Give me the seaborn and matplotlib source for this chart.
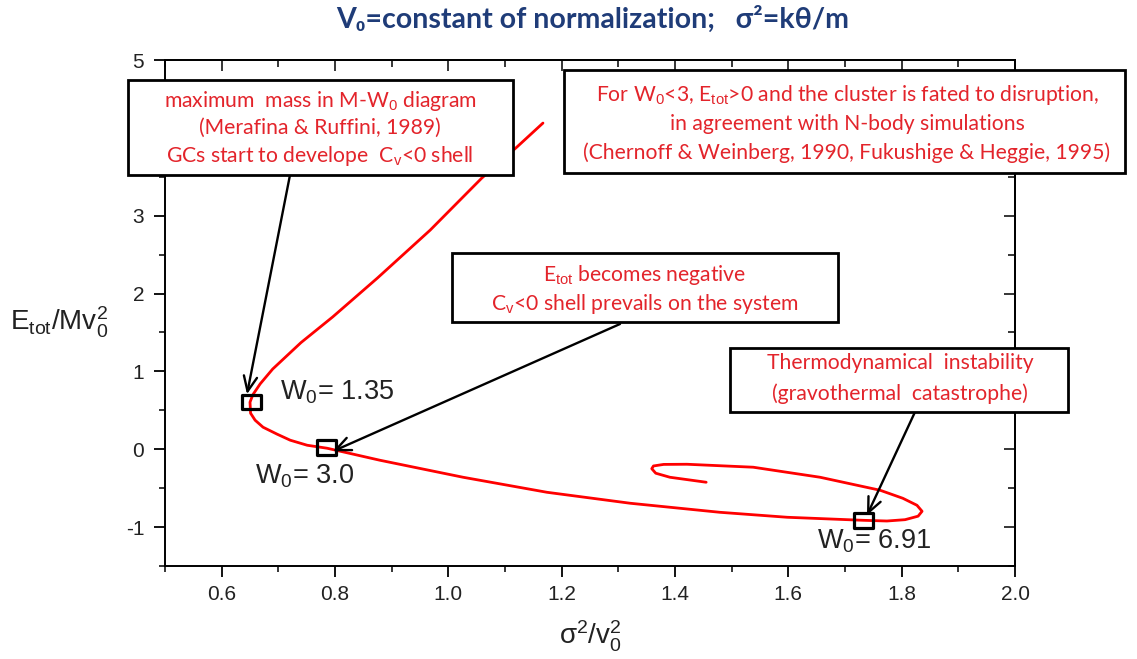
import matplotlib
matplotlib.use("Agg")
import matplotlib.pyplot as plt
from matplotlib.patches import Rectangle
from matplotlib.path import Path
from matplotlib.markers import MarkerStyle
from matplotlib.ticker import MultipleLocator
import numpy as np
import pandas as pd
import seaborn as sns

# ---- data ----
sigma2_v02 = [1.167, 1.121, 1.059, 0.968, 0.875, 0.796, 0.740, 0.690, 0.668, 0.655,
              0.650, 0.651, 0.659, 0.673, 0.698, 0.721, 0.751, 0.786, 0.879, 1.026,
              1.174, 1.321, 1.479, 1.598, 1.732, 1.774, 1.806, 1.829, 1.836, 1.827,
              1.802, 1.762, 1.656, 1.538, 1.421, 1.380, 1.362, 1.359, 1.366, 1.391,
              1.455]
etot_mv02 = [4.190, 3.882, 3.483, 2.815, 2.200, 1.700, 1.370, 1.030, 0.840, 0.700,
             0.604, 0.463, 0.373, 0.283, 0.193, 0.116, 0.051, 0.013, -0.141, -0.360,
             -0.553, -0.694, -0.810, -0.874, -0.913, -0.922, -0.905, -0.860, -0.797, -0.720,
             -0.630, -0.527, -0.360, -0.231, -0.193, -0.195, -0.215, -0.250, -0.308, -0.360,
             -0.424]

w0_labels = ["1.35", "3.0", "6.91"]
w0_sigma2 = [0.652, 0.785, 1.732]
w0_etot = [0.609, 0.019, -0.917]

x_ticks = [0.6, 0.8, 1.0, 1.2, 1.4, 1.6, 1.8, 2.0]
x_tick_labels = ["0.6", "0.8", "1.0", "1.2", "1.4", "1.6", "1.8", "2.0"]
y_ticks = [-1, 0, 1, 2, 3, 4, 5]
y_tick_labels = ["-1", "0", "1", "2", "3", "4", "5"]

title_text = "V\u2080=constant of normalization;   \u03c3\u00b2=k\u03b8/m"
box1_lines = ["maximum  mass in M-W$_{\\rm 0}$ diagram",
              "(Merafina & Ruffini, 1989)",
              "GCs start to develope  C$_{\\rm v}$<0 shell"]
box2_lines = ["For W$_{\\rm 0}$<3, E$_{\\rm tot}$>0 and the cluster is fated to disruption,",
              "in agreement with N-body simulations",
              "(Chernoff & Weinberg, 1990, Fukushige & Heggie, 1995)"]
box3_lines = ["E$_{\\rm tot}$ becomes negative",
              "C$_{\\rm v}$<0 shell prevails on the system"]
box4_lines = ["Thermodynamical  instability",
              "(gravothermal  catastrophe)"]

# ---- style ----
sns.set_theme(style="ticks")
plt.rcParams["font.family"] = ["Liberation Sans", "DejaVu Sans"]
plt.rcParams["mathtext.fontset"] = "custom"
plt.rcParams["mathtext.rm"] = "Liberation Sans"
plt.rcParams["mathtext.it"] = "Liberation Sans:italic"
plt.rcParams["mathtext.bf"] = "Liberation Sans:bold"
plt.rcParams["axes.unicode_minus"] = False

W, H = 1137, 659
RED_TXT = "#E3242B"
NAVY = "#1F3C78"
fig = plt.figure(figsize=(W / 100, H / 100), dpi=100)
fig.patch.set_facecolor("white")
ax = fig.add_axes([165 / W, 1 - 566 / H, 850 / W, 506 / H])

df = pd.DataFrame({"s": sigma2_v02, "e": etot_mv02})
sns.lineplot(data=df, x="s", y="e", sort=False, estimator=None, color="#FF0000",
             linewidth=2.0, ax=ax, zorder=2)

rect = Path([(-0.5, -0.38), (0.5, -0.38), (0.5, 0.38), (-0.5, 0.38), (-0.5, -0.38)],
            [Path.MOVETO, Path.LINETO, Path.LINETO, Path.LINETO, Path.CLOSEPOLY])
mdf = pd.DataFrame({"s": w0_sigma2, "e": w0_etot})
sns.scatterplot(data=mdf, x="s", y="e", marker=MarkerStyle(rect), s=190,
                facecolor="none", edgecolor="black", linewidth=2.3, ax=ax, zorder=4)

label_pos = [(0.703, 0.643), (0.659, -0.437), (1.6505, -1.272)]
for (lx, ly), lab in zip(label_pos, w0_labels):
    ax.text(lx, ly, "W$_{\\rm 0}$= " + lab, ha="left", va="baseline", fontsize=19.5,
            color="#222222", zorder=5)

ax.set_xlim(0.5, 2.0)
ax.set_ylim(-1.5, 5)
ax.set_xticks(x_ticks, x_tick_labels)
ax.xaxis.set_minor_locator(MultipleLocator(0.1))
ax.set_yticks(y_ticks, y_tick_labels)
ax.yaxis.set_minor_locator(MultipleLocator(0.5))
ax.tick_params(axis="both", which="major", direction="out", length=8, width=1.3,
               labelsize=15, colors="black")
ax.tick_params(axis="both", which="minor", direction="out", length=4.5, width=1.3)
ax.tick_params(axis="x", pad=6)
ax.tick_params(axis="y", pad=7)
for lbl in ax.get_xticklabels() + ax.get_yticklabels():
    lbl.set_color("#222222")
ax.set_xlabel("")
ax.set_ylabel("")
for sp in ax.spines.values():
    sp.set_visible(True)
    sp.set_linewidth(1.4)
    sp.set_color("black")

top = ax.secondary_xaxis("top")
top.set_xticks(x_ticks)
top.xaxis.set_minor_locator(MultipleLocator(0.1))
top.tick_params(which="major", direction="in", length=8, width=1.3, labeltop=False)
top.tick_params(which="minor", direction="in", length=5, width=1.3)
top.set_xticklabels([])
right = ax.secondary_yaxis("right")
right.set_yticks(y_ticks)
right.yaxis.set_minor_locator(MultipleLocator(0.5))
right.tick_params(which="major", direction="in", length=8, width=1.3, labelright=False)
right.tick_params(which="minor", direction="in", length=5, width=1.3)
right.set_yticklabels([])

# axis labels
fig.text(10 / W, 1 - 330 / H, "E$_{\\rm tot}$/Mv$_{\\rm 0}^{\\rm 2}$", ha="left",
         va="baseline", fontsize=20, color="#222222")
fig.text(590 / W, 1 - 636 / H, "$\\mathrm{\\sigma}^{\\rm 2}$/v$_{\\rm 0}^{\\rm 2}$",
         ha="center", va="center", fontsize=20, color="#222222")

# title
fig.text(593 / W, 1 - 19 / H, title_text, ha="center", va="center", fontsize=20.5,
         fontweight="bold", color=NAVY, family=["Lato", "DejaVu Sans"])

# arrows (head on the marker, tail on the box edge in figure pixels)
arrow_heads = [(0.6447, 0.707), (0.7965, -0.026), (1.7388, -0.848)]
arrow_tails = [(290, H - 175), (620, H - 324), (915, H - 412)]
for hd, tl in zip(arrow_heads, arrow_tails):
    ax.annotate("", xy=hd, xycoords="data", xytext=tl, textcoords="figure pixels",
                arrowprops=dict(arrowstyle="->,head_length=0.9,head_width=0.4",
                                color="black", lw=1.7, shrinkA=0, shrinkB=0),
                annotation_clip=False, zorder=6)


def add_box(x0, y0, x1, y1, lines, baselines, cx):
    fig.add_artist(Rectangle((x0 / W, 1 - y1 / H), (x1 - x0) / W, (y1 - y0) / H,
                             transform=fig.transFigure, facecolor="white",
                             edgecolor="black", linewidth=2.0, zorder=5))
    for s, b in zip(lines, baselines):
        fig.text(cx / W, 1 - b / H, s, ha="center", va="baseline", color=RED_TXT,
                 fontsize=15.2, family=["Lato", "DejaVu Sans"], zorder=6)


add_box(128, 80, 513, 175, box1_lines, [107, 134, 162], 320)
add_box(564, 70, 1125, 173, box2_lines, [101, 130, 159], 847)
add_box(452, 253, 838, 322, box3_lines, [281, 310], 645)
add_box(730, 348, 1068, 412, box4_lines, [369, 400], 900)

fig.savefig("out.png", dpi=100, facecolor="white")
